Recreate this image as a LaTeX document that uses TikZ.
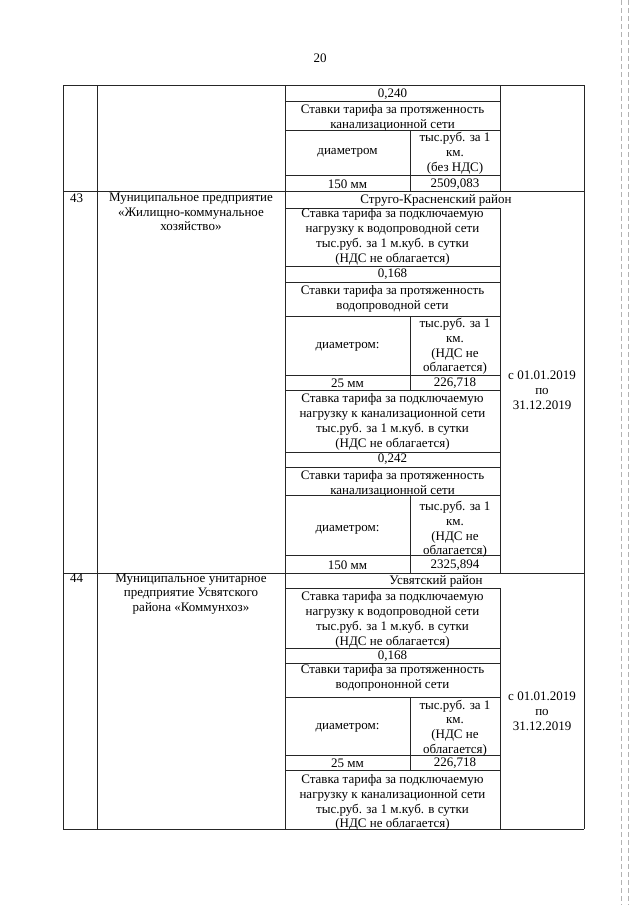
\documentclass[tikz,border=0pt]{standalone}
\usepackage{fontspec}
\setmainfont{Liberation Serif}
\newcommand{\tfs}{\fontsize{13}{14.8}\selectfont}
\begin{document}
\begin{tikzpicture}[x=1pt,y=-1pt,
  rule/.style={draw=black!85, line width=0.8pt},
  cell/.style={font=\tfs, align=center, inner sep=0pt},
  numcell/.style={font=\tfs, anchor=west, inner sep=0pt},
  noise/.style={draw=black!30, line width=0.7pt, dash pattern=on 5pt off 3pt}]
\useasboundingbox[fill=white] (0,0) rectangle (640,905);

% faint scan marks at the right edge
\draw[noise] (621,0) -- (621,905);
\draw[noise] (628,0) -- (628,905);

% page number
\node[cell] (pg) at (320,58) {20};

% outer frame and column lines
\draw[rule] (63,85) -- (584,85);
\draw[rule] (63,191) -- (584,191);
\draw[rule] (63,573) -- (584,573);
\draw[rule] (63,829) -- (584,829);
\draw[rule] (63,85) -- (63,829);
\draw[rule] (97,85) -- (97,829);
\draw[rule] (285,85) -- (285,829);
\draw[rule] (584,85) -- (584,829);
\draw[rule] (500,85) -- (500,191);
\draw[rule] (500,208) -- (500,573);
\draw[rule] (500,588) -- (500,829);

% column 3 horizontal rules
\foreach \yy in {101,130,175,208,266,282,316,375,390,452,467,495,555,588,648,663,697,755,770}
  \draw[rule] (285,\yy) -- (500,\yy);
% inner splits
\draw[rule] (410,130) -- (410,191);
\draw[rule] (410,316) -- (410,390);
\draw[rule] (410,495) -- (410,573);
\draw[rule] (410,697) -- (410,770);

% ---- top continuation
\node[cell] (v240) at (392.5,94) {0,240};
\node[cell] (prk1) at (392.5,117.5) {Ставки тарифа за протяженность\\канализационной сети};
\node[cell] (d1) at (347.5,153) {диаметром};
\node[cell] (u1) at (455,153) {тыс.руб. за 1\\км.\\(без НДС)};
\node[cell] (m1) at (347.5,184) {150 мм};
\node[cell] (x1) at (455,184) {2509,083};

% ---- row 43
\node[numcell] (n43) at (70,198) {43};
\node[cell] (org43) at (191,212) {Муниципальное предприятие\\«Жилищно-коммунальное\\хозяйство»};
\node[cell] (r43) at (436,200) {Струго-Красненский район};
\node[cell] (sw43) at (392.5,237) {Ставка тарифа за подключаемую\\нагрузку к водопроводной сети\\тыс.руб. за 1 м.куб. в сутки\\(НДС не облагается)};
\node[cell] (v168a) at (392.5,274) {0,168};
\node[cell] (pw43) at (392.5,298.5) {Ставки тарифа за протяженность\\водопроводной сети};
\node[cell] (d2) at (347.5,346.5) {диаметром:};
\node[cell] (u2) at (455,346.5) {тыс.руб. за 1\\км.\\(НДС не\\облагается)};
\node[cell] (m2) at (347.5,383) {25 мм};
\node[cell] (x2) at (455,383) {226,718};
\node[cell] (sk43) at (392.5,422) {Ставка тарифа за подключаемую\\нагрузку к канализационной сети\\тыс.руб. за 1 м.куб. в сутки\\(НДС не облагается)};
\node[cell] (v242) at (392.5,459.5) {0,242};
\node[cell] (pk43) at (392.5,484) {Ставки тарифа за протяженность\\канализационной сети};
\node[cell] (d3) at (347.5,529.5) {диаметром:};
\node[cell] (u3) at (455,529.5) {тыс.руб. за 1\\км.\\(НДС не\\облагается)};
\node[cell] (m3) at (347.5,565) {150 мм};
\node[cell] (x3) at (455,565) {2325,894};
\node[cell] (dt43) at (542,390) {с 01.01.2019\\по\\31.12.2019};

% ---- row 44
\node[numcell] (n44) at (70,578) {44};
\node[cell] (org44) at (191,594) {Муниципальное унитарное\\предприятие Усвятского\\района «Коммунхоз»};
\node[cell] (r44) at (436,581) {Усвятский район};
\node[cell] (sw44) at (392.5,620) {Ставка тарифа за подключаемую\\нагрузку к водопроводной сети\\тыс.руб. за 1 м.куб. в сутки\\(НДС не облагается)};
\node[cell] (v168b) at (392.5,656) {0,168};
\node[cell] (pw44) at (392.5,678) {Ставки тарифа за протяженность\\водопрононной сети};
\node[cell] (d4) at (347.5,728) {диаметром:};
\node[cell] (u4) at (455,728) {тыс.руб. за 1\\км.\\(НДС не\\облагается)};
\node[cell] (m4) at (347.5,763) {25 мм};
\node[cell] (x4) at (455,763) {226,718};
\node[cell] (sk44) at (392.5,802.5) {Ставка тарифа за подключаемую\\нагрузку к канализационной сети\\тыс.руб. за 1 м.куб. в сутки\\(НДС не облагается)};
\node[cell] (dt44) at (542,711) {с 01.01.2019\\по\\31.12.2019};
\end{tikzpicture}
\end{document}
